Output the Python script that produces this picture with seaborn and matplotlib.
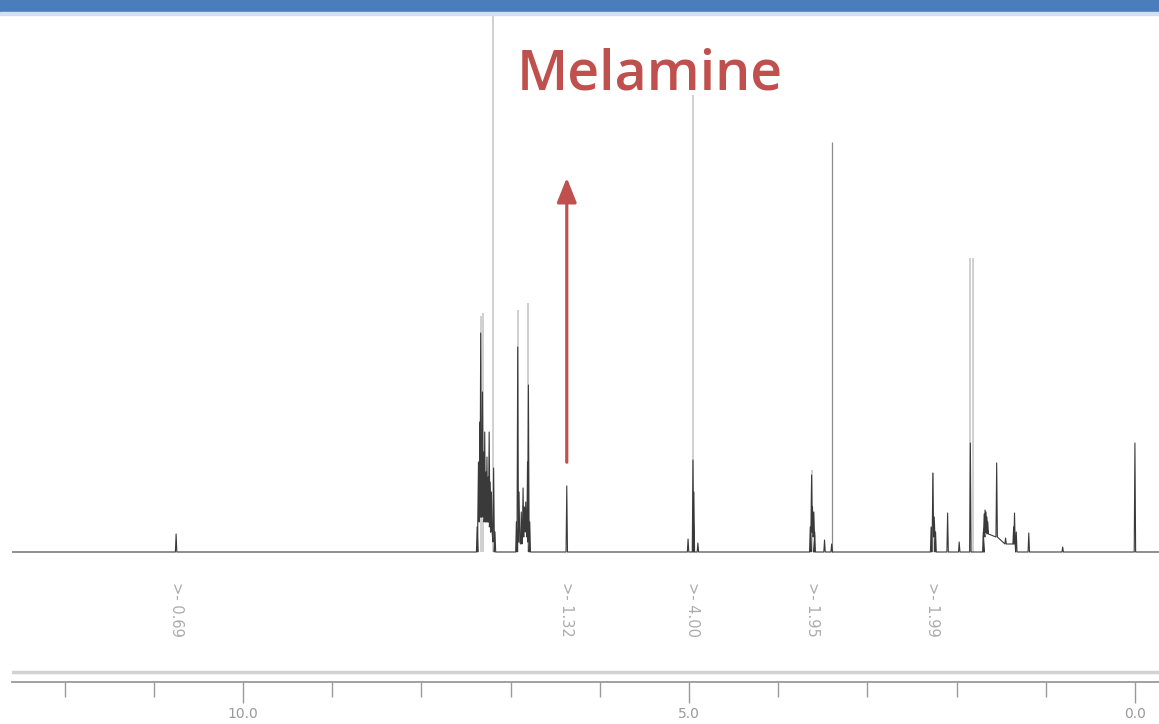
import pandas as pd
import matplotlib.pyplot as plt
from matplotlib.patches import Rectangle
import seaborn as sns

# Peak list: position (ppm), height of the dark trace,
# and the floor the multiplet sits on
peak_ppm = [10.75,
            7.375, 7.36, 7.345, 7.335, 7.325, 7.315, 7.30, 7.29, 7.275, 7.265,
            7.25, 7.24, 7.23, 7.215, 7.19, 7.175,
            6.935, 6.92, 6.905, 6.88, 6.86, 6.845, 6.83, 6.81, 6.80, 6.785,
            6.37,
            5.01, 4.955, 4.945, 4.90,
            3.64, 3.625, 3.615, 3.60, 3.59, 3.48, 3.40,
            2.285, 2.265, 2.25, 2.235, 2.10, 1.97, 1.845,
            1.70, 1.69, 1.68, 1.67, 1.66, 1.65, 1.55, 1.45,
            1.36, 1.35, 1.33, 1.19, 0.81, 0.0]
peak_height = [18,
               25, 90, 130, 219, 110, 160, 100, 120, 80, 95,
               75, 120, 70, 60, 84, 20,
               30, 205, 60, 40, 64, 45, 50, 90, 167, 30,
               66,
               13, 92, 60, 9,
               25, 77, 45, 40, 20, 12, 8,
               25, 79, 35, 20, 39, 10, 109,
               20, 38, 42, 40, 35, 30, 89, 14,
               25, 39, 20, 19, 5, 109]
peak_floor = [0,
              0, 30, 35, 35, 40, 35, 35, 30, 35, 30,
              30, 30, 25, 20, 10, 0,
              0, 10, 10, 8, 15, 20, 20, 15, 10, 0,
              0,
              0, 0, 0, 0,
              0, 20, 20, 15, 0, 0, 0,
              0, 15, 15, 0, 0, 0, 0,
              0, 15, 20, 20, 20, 18, 15, 8,
              8, 8, 0, 0, 0, 0]

# tall thin lines that fade to light grey above the dark trace
spike_ppm = [7.20, 7.335, 7.31, 6.92, 6.80, 4.955, 3.625, 2.265, 1.845, 1.815]
spike_top = [600, 236, 239, 242, 249, 457, 82, 79, 294, 294]
thin_ppm = [3.40]
thin_top = [410]

# integrals
integral_ppm = [10.75, 6.37, 4.955, 3.615, 2.265]
integral_labels = ['0.69', '1.32', '4.00', '1.95', '1.99']

major_ticks = [10, 5, 0]
major_labels = ['10.0', '5.0', '0.0']
minor_ticks = [12, 11, 9, 8, 7, 6, 4, 3, 2, 1]

# build the trace from the peak list
half_width = 0.008
pts_ppm = [12.59]
pts_int = [0]
for p, h, f in sorted(zip(peak_ppm, peak_height, peak_floor), reverse=True):
    pts_ppm += [p + half_width, p, p - half_width]
    pts_int += [f, h, f]
pts_ppm.append(-0.27)
pts_int.append(0)
spectrum = pd.DataFrame({'ppm': pts_ppm, 'intensity': pts_int})

sns.set_theme(style='ticks')

fig = plt.figure(figsize=(11.59, 7.24), dpi=100)
ax = fig.add_axes([12 / 1159, 42 / 724, 1147 / 1159, 670 / 724])

# light parts of the tall lines
ax.vlines(spike_ppm, 0, spike_top, color='#c4c4c4', lw=1.1, zorder=1)
ax.vlines(thin_ppm, 0, thin_top, color='#8a8a8a', lw=0.9, zorder=1)

sns.lineplot(data=spectrum, x='ppm', y='intensity', sort=False, estimator=None,
             color='#3a3a3a', lw=0.8, ax=ax, zorder=2)

ax.set_xlim(12.59, -0.27)
ax.set_ylim(-130, 540)

# integral labels under the peaks
for p, lab in zip(integral_ppm, integral_labels):
    ax.text(p, -57, '>- ' + lab, rotation=-90, ha='center', va='center',
            fontsize=10.5, color='#acacac')

# melamine arrow
ax.annotate('', xy=(6.37, 377), xytext=(6.37, 87),
            arrowprops=dict(arrowstyle='-|>,head_length=0.75,head_width=0.3',
                            color='#C0504D', lw=2.3, mutation_scale=20))

# scale bar
ax.axhline(-120, color='#d2d2d2', lw=2.5)
ax.set_xticks(major_ticks)
ax.set_xticklabels(major_labels)
ax.set_xticks(minor_ticks, minor=True)
ax.tick_params(axis='x', which='major', length=15, width=1, color='#9a9a9a',
               labelcolor='#999999', labelsize=10, pad=3)
ax.tick_params(axis='x', which='minor', length=11, width=1, color='#9a9a9a')
ax.set_yticks([])
ax.set_xlabel('')
ax.set_ylabel('')
for side in ['top', 'left', 'right']:
    ax.spines[side].set_visible(False)
ax.spines['bottom'].set_color('#9a9a9a')
ax.spines['bottom'].set_linewidth(1.3)
ax.patch.set_alpha(0)

# header bar and title
fig.add_artist(Rectangle((0, 1 - 12 / 724), 1, 12 / 724, transform=fig.transFigure,
                         color='#4A7EBB', zorder=5))
fig.add_artist(Rectangle((0, 1 - 15 / 724), 1, 3 / 724, transform=fig.transFigure,
                         color='#d3e0f0', zorder=5))
fig.text(650 / 1159, 1 - 75 / 724, 'Melamine', ha='center', va='center',
         fontsize=40, color='#C0504D', fontfamily='Open Sans', fontweight='semibold')

fig.savefig('out.png', dpi=100)
